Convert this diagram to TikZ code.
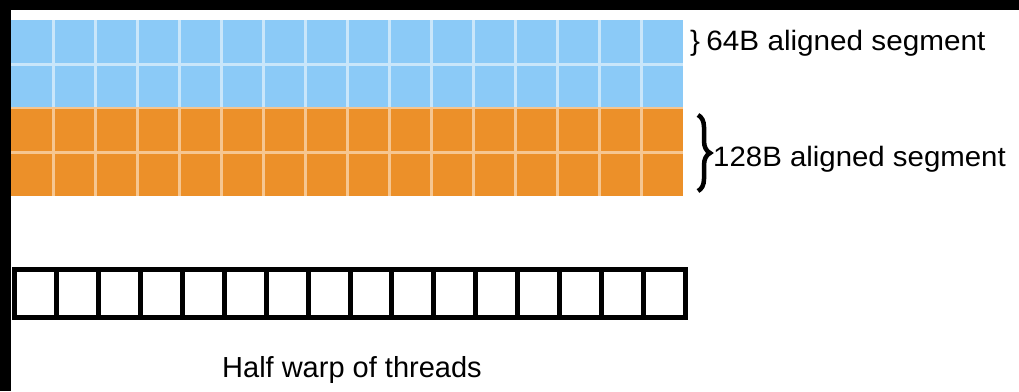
\documentclass[tikz,border=0pt]{standalone}
\usepackage{fontspec}
\setmainfont{Liberation Sans}
\usetikzlibrary{decorations.pathreplacing}
\definecolor{segblue}{HTML}{8BCAF7}
\definecolor{segbluelight}{HTML}{C9E6FA}
\definecolor{segorange}{HTML}{EC9029}
\definecolor{segorangelight}{HTML}{F6C690}
\tikzset{
  lbl/.style={anchor=base west, inner sep=0pt, font=\fontsize{28}{32}\selectfont},
  cellline/.style={line width=3pt},
  threadbox/.style={draw=black, line width=5pt}
}
\begin{document}
\begin{tikzpicture}[x=1pt, y=-1pt]
  % frame
  \fill[black] (0,0) rectangle (1019,391);
  \fill[white] (11,10) rectangle (1019,391);
  \useasboundingbox (0,0) rectangle (1019,391);

  % 64B rows (blue) and 128B rows (orange)
  \fill[segblue] (11,20) rectangle (683,108);
  \fill[segorange] (11,108) rectangle (683,196);
  \foreach \i in {1,...,15} {
    \draw[cellline, segbluelight] (11+42*\i,20) -- (11+42*\i,108);
    \draw[cellline, segorangelight] (11+42*\i,108) -- (11+42*\i,196);
  }
  \draw[cellline, segbluelight] (11,64) -- (683,64);
  \draw[line width=2pt, segorangelight] (11,108) -- (683,108);
  \draw[cellline, segorangelight] (11,152) -- (683,152);

  % segment labels
  \node[lbl, xscale=1.06] (seg64) at (690,50) {\}\kern6pt 64B aligned segment};
  \coordinate (b128top) at (698,115);
  \coordinate (b128bot) at (698,191);
  \draw[line width=4.5pt, decorate, decoration={brace, amplitude=12pt}] (b128top) -- (b128bot);
  \node[lbl, xscale=1.05] (seg128) at (713,166) {128B aligned segment};

  % half warp of threads
  \draw[threadbox] (14.5,269.5) rectangle (685.5,317.5);
  \foreach \i in {1,...,15} {
    \draw[line width=5pt] (14.5+41.94*\i,269.5) -- (14.5+41.94*\i,317.5);
  }
  \node[lbl, font=\fontsize{29}{33}\selectfont] (warp) at (222,377) {Half warp of threads};
\end{tikzpicture}
\end{document}
